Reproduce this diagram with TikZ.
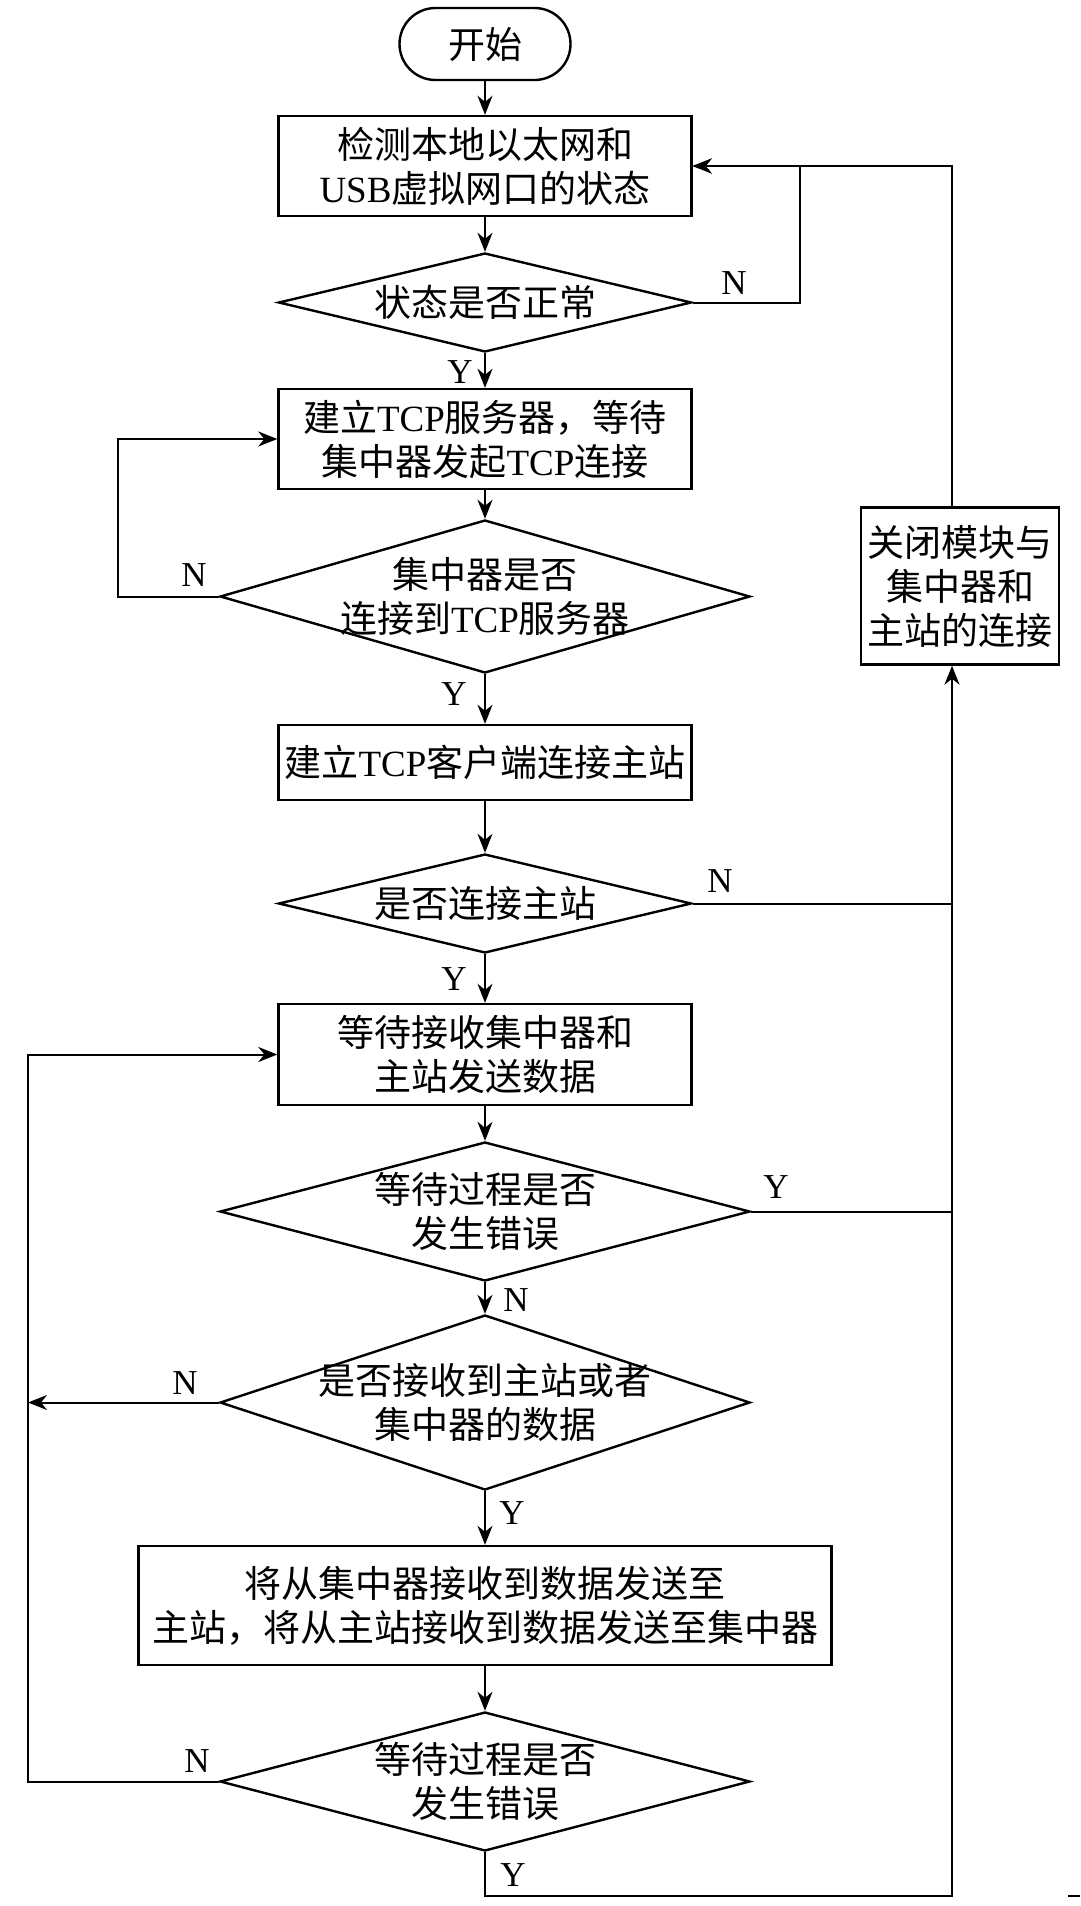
\documentclass[tikz,border=0pt]{standalone}
\usepackage{fontspec}
\setmainfont{Noto Sans CJK SC}
\newfontfamily\lat{Liberation Serif}
\usetikzlibrary{shapes.geometric,arrows.meta}
\begin{document}
\begin{tikzpicture}[x=1pt,y=-1pt,
  every node/.style={font=\fontsize{37}{44}\selectfont},
  proc/.style={draw, line width=2.4pt, rectangle, minimum width=413pt, inner sep=0pt, align=center},
  dec/.style={draw, line width=2.4pt, diamond, inner sep=0pt},
  txt/.style={align=center, inner sep=0pt},
  lbl/.style={font=\lat\fontsize{35}{35}\selectfont, inner sep=0pt},
  ln/.style={line width=2pt},
  arr/.style={line width=2pt, -{Stealth[length=19pt,width=15pt,inset=6pt]}}]
\fill[white] (0,0) rectangle (1080,1906);
\useasboundingbox (0,0) rectangle (1080,1906);

% nodes
\node[draw, line width=2.4pt, rounded corners=36pt, minimum width=171pt, minimum height=72pt, inner sep=0pt] (start) at (485,44) {开始};
\node[proc, minimum height=100pt] (b1) at (485,166) {检测本地以太网和\\{\lat USB}虚拟网口的状态};
\node[dec, minimum width=413pt, minimum height=99pt] (d1) at (485,302.5) {};
\node[txt] (t1) at (d1) {状态是否正常};
\node[proc, minimum height=100pt] (b2) at (485,439) {建立{\lat TCP}服务器，等待\\集中器发起{\lat TCP}连接};
\node[dec, minimum width=530pt, minimum height=153pt] (d2) at (485,596.5) {};
\node[txt] (t2) at (d2) {集中器是否\\连接到{\lat TCP}服务器};
\node[proc, minimum height=75pt] (b3) at (485,762.5) {建立{\lat TCP}客户端连接主站};
\node[dec, minimum width=413pt, minimum height=99pt] (d3) at (485,903.5) {};
\node[txt] (t3) at (d3) {是否连接主站};
\node[proc, minimum height=101pt] (b4) at (485,1054.5) {等待接收集中器和\\主站发送数据};
\node[dec, minimum width=530pt, minimum height=139pt] (d4) at (485,1211.5) {};
\node[txt] (t4) at (d4) {等待过程是否\\发生错误};
\node[dec, minimum width=530pt, minimum height=175pt] (d5) at (485,1402.5) {};
\node[txt] (t5) at (d5) {是否接收到主站或者\\集中器的数据};
\node[proc, minimum width=693pt, minimum height=119pt] (b5) at (485,1605.5) {将从集中器接收到数据发送至\\主站，将从主站接收到数据发送至集中器};
\node[dec, minimum width=530pt, minimum height=139pt] (d6) at (485,1781.5) {};
\node[txt] (t6) at (d6) {等待过程是否\\发生错误};
\node[draw, line width=2.4pt, minimum width=198pt, minimum height=157pt, inner sep=0pt, align=center] (cl) at (960,586) {关闭模块与\\集中器和\\主站的连接};

% helper coordinates
\coordinate (xr) at (952,0);
\coordinate (xr1) at (800,0);
\coordinate (xl1) at (118,0);
\coordinate (xl2) at (28,0);
\coordinate (yb) at (0,1896);

% main flow
\draw[arr] (start) -- (b1);
\draw[arr] (b1) -- (d1);
\draw[arr] (d1) -- (b2);
\draw[arr] (b2) -- (d2);
\draw[arr] (d2) -- (b3);
\draw[arr] (b3) -- (d3);
\draw[arr] (d3) -- (b4);
\draw[arr] (b4) -- (d4);
\draw[arr] (d4) -- (d5);
\draw[arr] (d5) -- (b5);
\draw[arr] (b5) -- (d6);

% loops
\draw[arr] (d1.east) -- (d1.east -| xr1) -- (b1.east -| xr1) -- (b1.east);
\draw[arr] (cl.north -| xr) -- (b1.east -| xr) -- (b1.east);
\draw[arr] (d2.west) -- (d2.west -| xl1) -- (b2.west -| xl1) -- (b2.west);
\draw[ln] (d3.east) -- (d3.east -| xr);
\draw[ln] (d4.east) -- (d4.east -| xr);
\draw[arr] (d6.south) -- (d6.south |- yb) -- (yb -| xr) -- (cl.south -| xr);
\draw[arr] (d5.west) -- (d5.west -| xl2);
\draw[arr] (d6.west) -- (d6.west -| xl2) -- (b4.west -| xl2) -- (b4.west);
\draw[ln] (1068,1896) -- (1080,1896);

% labels
\node[lbl] (y1) at (460,372) {Y};
\node[lbl] (n1) at (734,283) {N};
\node[lbl] (n2) at (194,575) {N};
\node[lbl] (y2) at (454,694) {Y};
\node[lbl] (n3) at (720,881) {N};
\node[lbl] (y3) at (454,979) {Y};
\node[lbl] (y4) at (776,1187) {Y};
\node[lbl] (n4) at (516,1300) {N};
\node[lbl] (n5) at (185,1383) {N};
\node[lbl] (y5) at (512,1513) {Y};
\node[lbl] (n6) at (197,1761) {N};
\node[lbl] (y6) at (513,1875) {Y};
\end{tikzpicture}
\end{document}
